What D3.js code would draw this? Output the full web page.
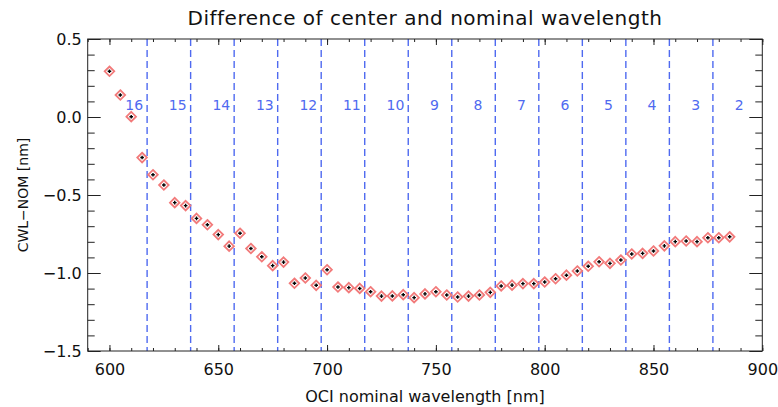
<!DOCTYPE html>
<html>
<head>
<meta charset="utf-8">
<script src="https://cdn.jsdelivr.net/npm/d3@7"></script>
<style>
  html, body { margin: 0; padding: 0; background: #fff; }
  svg { display: block; }
  text { font-family: "DejaVu Sans", sans-serif; }
</style>
</head>
<body>
<svg id="chart" width="778" height="407"></svg>
<script>
// ---- data ----
const wavelengths = [600,605,610,615,620,625,630,635,640,645,650,655,660,665,670,675,680,685,690,695,
  700,705,710,715,720,725,730,735,740,745,750,755,760,765,770,775,780,785,790,795,
  800,805,810,815,820,825,830,835,840,845,850,855,860,865,870,875,880,885];
const cwlMinusNom = [0.293,0.141,0.002,-0.260,-0.370,-0.436,-0.549,-0.568,-0.650,-0.691,
  -0.754,-0.828,-0.745,-0.843,-0.896,-0.953,-0.930,-1.066,-1.032,-1.079,
  -0.979,-1.090,-1.094,-1.099,-1.120,-1.148,-1.147,-1.139,-1.158,-1.134,
  -1.120,-1.141,-1.154,-1.148,-1.141,-1.124,-1.083,-1.078,-1.068,-1.068,
  -1.058,-1.037,-1.014,-0.987,-0.957,-0.928,-0.938,-0.917,-0.878,-0.874,
  -0.859,-0.826,-0.799,-0.795,-0.799,-0.774,-0.774,-0.768];
const bandEdges = [617.3,637.3,657.3,677.3,697.3,717.3,737.3,757.3,777.3,797.3,817.3,837.3,857.3,877.3];
const bandLabels = ["16","15","14","13","12","11","10","9","8","7","6","5","4","3","2"];
const bandLabelPos = [607.3,627.3,647.3,667.3,687.3,707.3,727.3,747.3,767.3,787.3,807.3,827.3,847.3,867.3,887.3];
const xMajorTicks = [600,650,700,750,800,850,900];
const xMinorTicks = [590,600,610,620,630,640,650,660,670,680,690,700,710,720,730,740,750,760,770,780,790,800,810,820,830,840,850,860,870,880,890,900];
const yMajorTicks = [0.5,0.0,-0.5,-1.0,-1.5];
const yMinorTicks = [0.4,0.3,0.2,0.1,-0.1,-0.2,-0.3,-0.4,-0.6,-0.7,-0.8,-0.9,-1.1,-1.2,-1.3,-1.4];
const titleText = "Difference of center and nominal wavelength";
const xTitle = "OCI nominal wavelength [nm]";
const yTitle = "CWL\u2212NOM [nm]";

// ---- layout ----
const L = 87.7, R = 762.3, T = 39, B = 351;
const svg = d3.select("#chart");
const x = d3.scaleLinear().domain([590, 900]).range([L, R]);
const y = d3.scaleLinear().domain([-1.5, 0.5]).range([B, T]);
const axisColor = "#222";
const blue = "#4f6af0";
const bandLabelLevel = 0.045;

// band separators
svg.append("g").selectAll("line").data(bandEdges).join("line")
  .attr("x1", d => x(d)).attr("x2", d => x(d))
  .attr("y1", T).attr("y2", B)
  .attr("stroke", blue).attr("stroke-width", 1.4)
  .attr("stroke-dasharray", "7,4");

// band labels
svg.append("g").selectAll("text").data(bandLabels).join("text")
  .attr("x", (d, i) => x(bandLabelPos[i]))
  .attr("y", y(bandLabelLevel))
  .attr("fill", blue)
  .attr("font-size", 14)
  .text(d => d);

function fmtY(d) { return (d < 0 ? "\u2212" : "") + Math.abs(d).toFixed(1); }

const gB = svg.append("g").attr("transform", `translate(0,${B})`);
gB.call(d3.axisBottom(x).tickValues(xMinorTicks).tickSize(-3).tickFormat(""));
gB.call(g => g.append("g").call(d3.axisBottom(x).tickValues(xMajorTicks).tickSize(-6).tickPadding(13).tickFormat(d3.format("d"))));
const gT = svg.append("g").attr("transform", `translate(0,${T})`);
gT.call(d3.axisTop(x).tickValues(xMinorTicks).tickSize(-3).tickFormat(""));
gT.call(g => g.append("g").call(d3.axisTop(x).tickValues(xMajorTicks).tickSize(-6).tickFormat("")));
const gL = svg.append("g").attr("transform", `translate(${L},0)`);
gL.call(d3.axisLeft(y).tickValues(yMinorTicks).tickSize(-7).tickFormat(""));
gL.call(g => g.append("g").call(d3.axisLeft(y).tickValues(yMajorTicks).tickSize(-13).tickPadding(6).tickFormat(fmtY)));
const gR = svg.append("g").attr("transform", `translate(${R},0)`);
gR.call(d3.axisRight(y).tickValues(yMinorTicks).tickSize(-7).tickFormat(""));
gR.call(g => g.append("g").call(d3.axisRight(y).tickValues(yMajorTicks).tickSize(-13).tickFormat("")));

svg.selectAll(".domain").attr("stroke", "none");
svg.selectAll(".tick line").attr("stroke", axisColor).attr("stroke-width", 1);
svg.selectAll(".tick text").attr("fill", "#111").attr("font-size", 16).attr("font-family", "DejaVu Sans, sans-serif");

// frame
svg.append("rect").attr("x", L).attr("y", T).attr("width", R - L).attr("height", B - T)
  .attr("fill", "none").attr("stroke", axisColor).attr("stroke-width", 1);

// markers
const pts = wavelengths.map((w, i) => ({w, v: cwlMinusNom[i]}));
const mk = svg.append("g").selectAll("g").data(pts).join("g")
  .attr("transform", d => `translate(${x(d.w)},${y(d.v)})`);
mk.append("path").attr("d", "M0,-4.8L4.8,0L0,4.8L-4.8,0Z")
  .attr("fill", "#fff").attr("stroke", "#f27a7a").attr("stroke-width", 1.8);
mk.append("path").attr("d", "M-1.8,0H1.8M0,-1.8V1.8")
  .attr("stroke", "#000").attr("stroke-width", 1.4);

// titles
svg.append("text").attr("x", (L + R) / 2).attr("y", 25).attr("text-anchor", "middle")
  .attr("font-size", 20).attr("letter-spacing", 0.5).attr("fill", "#111").text(titleText);
svg.append("text").attr("x", (L + R) / 2).attr("y", 402).attr("text-anchor", "middle")
  .attr("font-size", 16).attr("fill", "#111").text(xTitle);
svg.append("text").attr("transform", `translate(28,${(T + B) / 2}) rotate(-90)`)
  .attr("text-anchor", "middle").attr("font-size", 14).attr("fill", "#111").text(yTitle);
</script>
</body>
</html>
